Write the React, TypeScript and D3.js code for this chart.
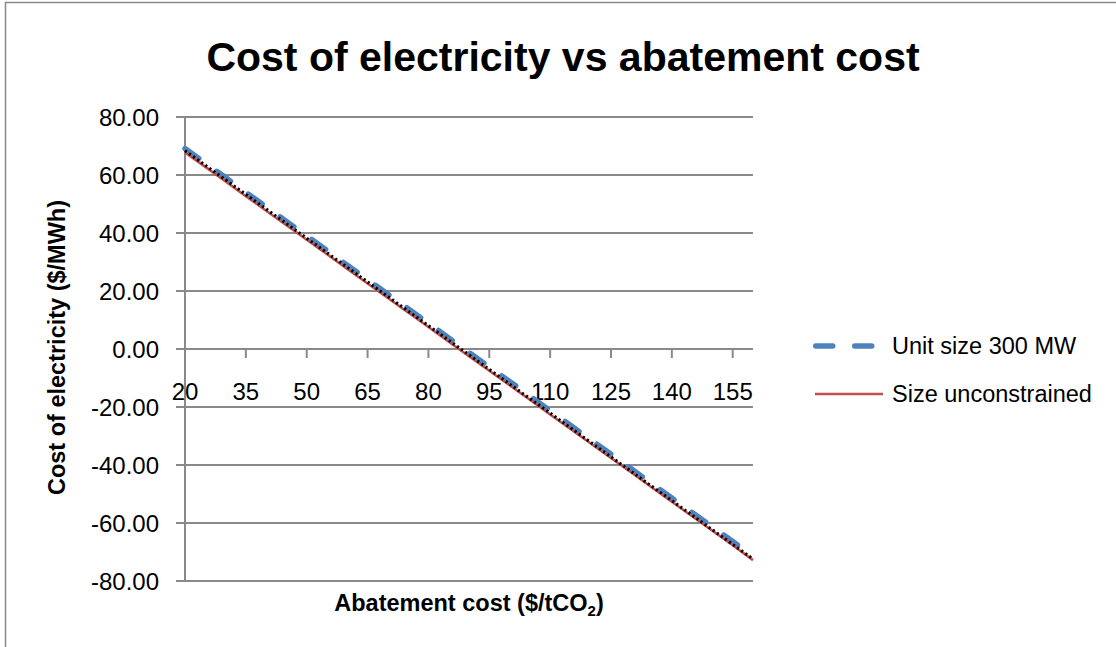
import React from "react";
import * as d3 from "d3";

// Abatement cost categories ($/tCO2)
const abatementCosts: number[] = [
  20, 25, 30, 35, 40, 45, 50, 55, 60, 65, 70, 75, 80, 85, 90,
  95, 100, 105, 110, 115, 120, 125, 130, 135, 140, 145, 150, 155, 160,
];

// Cost of electricity ($/MWh), unit size fixed at 300 MW
const unitSize300: number[] = [
  69.1, 64.1, 59.1, 54.0, 49.0, 44.0, 39.0, 34.0, 28.9, 23.9, 18.9, 13.9, 8.9, 3.8, -1.2,
  -6.2, -11.2, -16.2, -21.3, -26.3, -31.3, -36.3, -41.3, -46.4, -51.4, -56.4, -61.4, -66.4, -71.5,
];

// Cost of electricity ($/MWh), unit size unconstrained
const sizeUnconstrained: number[] = [
  67.8, 62.8, 57.8, 52.7, 47.7, 42.7, 37.7, 32.7, 27.6, 22.6, 17.6, 12.6, 7.6, 2.5, -2.5,
  -7.5, -12.5, -17.5, -22.6, -27.6, -32.6, -37.6, -42.6, -47.7, -52.7, -57.7, -62.7, -67.7, -72.8,
];

// Linear trend line, first and last category
const trendCosts: number[] = [20, 160];
const trendValues: number[] = [68.4, -72.4];

const yTicks: number[] = [-80, -60, -40, -20, 0, 20, 40, 60, 80];
const xLabelEvery = 3;

const seriesNames = ["Unit size 300 MW", "Size unconstrained"];

const W = 1116;
const H = 647;
const plot = { left: 185, right: 753, top: 117, bottom: 581 };

const FONT = "'Liberation Sans', Arial, sans-serif";
const GRID = "#898989";
const BLUE = "#4f81bd";
const RED = "#c0504d";

const fmt = d3.formatLocale({
  decimal: ".",
  thousands: ",",
  grouping: [3],
  currency: ["$", ""],
  minus: "-",
}).format(".2f");

export default function App() {
  const x = d3
    .scalePoint<number>()
    .domain(abatementCosts)
    .range([plot.left, plot.right]);
  const y = d3.scaleLinear().domain([-80, 80]).range([plot.bottom, plot.top]);
  const y0 = y(0);

  const line = d3
    .line<[number, number]>()
    .x((d) => x(d[0]) as number)
    .y((d) => y(d[1]));

  const bluePts = abatementCosts.map((c, i) => [c, unitSize300[i]] as [number, number]);
  const redPts = abatementCosts.map((c, i) => [c, sizeUnconstrained[i]] as [number, number]);
  const trendPts = trendCosts.map((c, i) => [c, trendValues[i]] as [number, number]);

  const labelled = abatementCosts.filter((_, i) => i % xLabelEvery === 0);

  return (
    <svg
      width={W}
      height={H}
      viewBox={`0 0 ${W} ${H}`}
      style={{ position: "absolute", left: 0, top: 0, background: "#fff" }}
      fontFamily={FONT}
    >
      {/* chart frame (top and left edges fall inside the view) */}
      <rect x={5.5} y={2.5} width={W + 20} height={H + 20} fill="#fff" stroke={GRID} strokeWidth={1.5} />

      <text x={563} y={71} textAnchor="middle" fontSize={41} fontWeight="bold" fill="#000">
        Cost of electricity vs abatement cost
      </text>

      {/* horizontal gridlines */}
      {yTicks.map((t) => (
        <line key={`g${t}`} x1={plot.left} x2={plot.right} y1={y(t)} y2={y(t)} stroke={GRID} strokeWidth={2} />
      ))}

      {/* value axis */}
      <line x1={plot.left} x2={plot.left} y1={plot.top} y2={plot.bottom} stroke={GRID} strokeWidth={2} />
      {yTicks.map((t) => (
        <g key={`y${t}`}>
          <line x1={plot.left - 9} x2={plot.left} y1={y(t)} y2={y(t)} stroke={GRID} strokeWidth={2} />
          <text x={159} y={y(t) + 8.5} textAnchor="end" fontSize={24} fill="#000">
            {fmt(t)}
          </text>
        </g>
      ))}

      {/* category axis crossing at zero */}
      <line x1={plot.left} x2={plot.right} y1={y0} y2={y0} stroke={GRID} strokeWidth={2} />
      {labelled.map((c) => (
        <g key={`x${c}`}>
          <line x1={x(c)} x2={x(c)} y1={y0} y2={y0 + 9} stroke={GRID} strokeWidth={2} />
          <text x={x(c)} y={y0 + 50.5} textAnchor="middle" fontSize={24} fill="#000">
            {c}
          </text>
        </g>
      ))}

      {/* series */}
      <path
        d={line(bluePts) ?? ""}
        fill="none"
        stroke={BLUE}
        strokeWidth={5.5}
        strokeLinecap="round"
        strokeDasharray="17 22"
      />
      <path d={line(redPts) ?? ""} fill="none" stroke={RED} strokeWidth={2.5} />
      <path d={line(trendPts) ?? ""} fill="none" stroke="#000" strokeWidth={3} strokeDasharray="2.2 2.8" />

      {/* axis titles */}
      <text x={469} y={611} textAnchor="middle" fontSize={23.5} fontWeight="bold" fill="#000">
        Abatement cost ($/tCO
        <tspan fontSize={15} dy={5}>2</tspan>
        <tspan dy={-5}>)</tspan>
      </text>
      <text
        transform={`translate(65, 347.5) rotate(-90)`}
        textAnchor="middle"
        fontSize={23.5}
        fontWeight="bold"
        fill="#000"
      >
        Cost of electricity ($/MWh)
      </text>

      {/* legend */}
      <line x1={815.75} x2={874.25} y1={346} y2={346} stroke={BLUE} strokeWidth={5.5} strokeLinecap="round" strokeDasharray="17 22" />
      <text x={892} y={353.5} fontSize={23.5} fill="#000">
        {seriesNames[0]}
      </text>
      <line x1={815} x2={883} y1={394} y2={394} stroke={RED} strokeWidth={2.5} />
      <text x={892} y={402} fontSize={23.5} fill="#000">
        {seriesNames[1]}
      </text>
    </svg>
  );
}
